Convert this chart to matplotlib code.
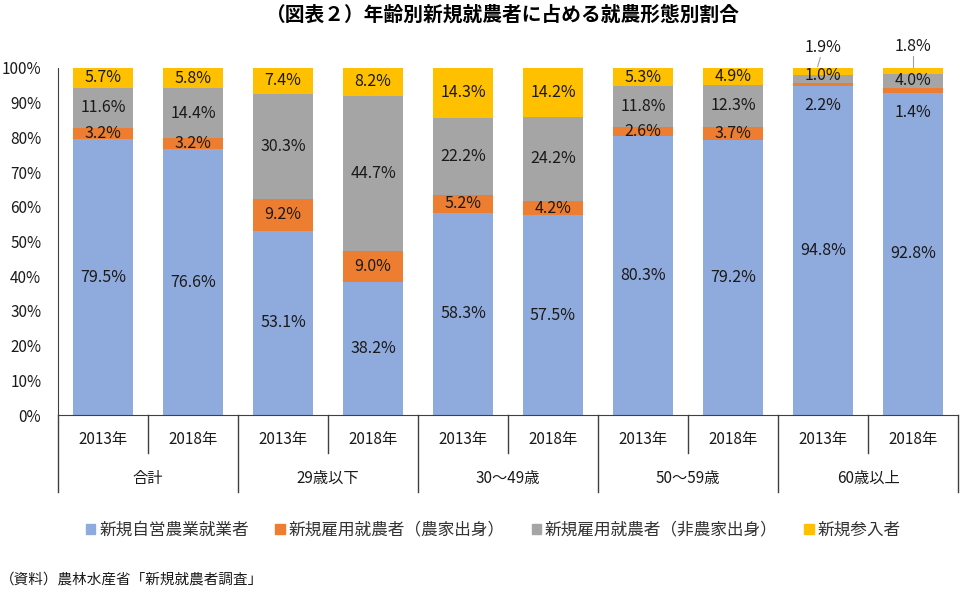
import numpy as np
import matplotlib.pyplot as plt
from matplotlib.patches import Patch

plt.rcParams['font.family'] = ['Noto Sans CJK JP', 'DejaVu Sans']

# データ
nenrei = ["合計", "29歳以下", "30～49歳", "50～59歳", "60歳以上"]
nen = ["2013年", "2018年"]

jiei = [79.5, 76.6, 53.1, 38.2, 58.3, 57.5, 80.3, 79.2, 94.8, 92.8]
koyo_noka = [3.2, 3.2, 9.2, 9.0, 5.2, 4.2, 2.6, 3.7, 1.0, 1.4]
koyo_hinoka = [11.6, 14.4, 30.3, 44.7, 22.2, 24.2, 11.8, 12.3, 2.2, 4.0]
sannyu = [5.7, 5.8, 7.4, 8.2, 14.3, 14.2, 5.3, 4.9, 1.9, 1.8]

series = [jiei, koyo_noka, koyo_hinoka, sannyu]
nomes = ["新規自営農業就業者", "新規雇用就農者（農家出身）",
         "新規雇用就農者（非農家出身）", "新規参入者"]
cores = ["#8FAADC", "#ED7D31", "#A5A5A5", "#FFC000"]

fig = plt.figure(figsize=(9.75, 6.03), dpi=100)
ax = fig.add_axes([58 / 975, 188 / 603, 900 / 975, 347 / 603])

x = np.arange(len(jiei))
base = np.zeros(len(jiei))
for k, (vals, cor) in enumerate(zip(series, cores)):
    vals = np.array(vals)
    ax.bar(x, vals, 0.667, bottom=base, color=cor, zorder=2)
    for i, v in enumerate(vals):
        if i >= 8 and k > 0:
            continue  # 60歳以上は手で配置
        ax.text(i, base[i] + v / 2, f"{v:.1f}%", ha="center", va="center",
                fontsize=11.5, color="#1a1a1a")
    base = base + vals

# 60歳以上の小さいラベル
c1 = dict(ha="center", va="center", fontsize=11.5, color="#1a1a1a")
ax.text(8, 97.7, f"{koyo_noka[8]:.1f}%", **c1)
ax.text(8, 89.3, f"{koyo_hinoka[8]:.1f}%", **c1)
ax.text(8, 105.8, f"{sannyu[8]:.1f}%", clip_on=False, **c1)
ax.text(9, 96.3, f"{koyo_hinoka[9]:.1f}%", **c1)
ax.text(9, 87.3, f"{koyo_noka[9]:.1f}%", **c1)
ax.text(9, 106.3, f"{sannyu[9]:.1f}%", clip_on=False, **c1)
ax.plot([7.97, 7.94], [103.0, 100.4], color="#a0a0a0", lw=0.8, clip_on=False)
ax.plot([9.0, 9.0], [103.4, 100.4], color="#a0a0a0", lw=0.8, clip_on=False)

ax.set_xlim(-0.5, 9.5)
ax.set_ylim(0, 100)
ax.set_yticks(np.arange(0, 101, 10))
ax.set_yticklabels([f"{t}%" for t in range(0, 101, 10)], fontsize=11, color="#1a1a1a")
ax.tick_params(axis="y", length=0, pad=12)
ax.set_xticks([])
ax.spines["top"].set_visible(False)
ax.spines["right"].set_visible(False)
ax.spines["left"].set_color("#404040")
ax.spines["bottom"].set_color("#404040")

# 軸の下の2段ラベル
tr = ax.get_xaxis_transform()
for i in range(len(jiei)):
    ax.text(i, -0.072, nen[i % 2], transform=tr, ha="center", va="center",
            fontsize=11, color="#1a1a1a")
for i in range(1, len(jiei), 2):
    ax.plot([i - 0.5, i - 0.5], [0, -0.1095], transform=tr,
            color="#404040", lw=1, clip_on=False)
for g in range(len(nenrei) + 1):
    ax.plot([2 * g - 0.5, 2 * g - 0.5], [0, -0.222], transform=tr,
            color="#404040", lw=1, clip_on=False)
for g, nome in enumerate(nenrei):
    ax.text(2 * g + 0.5, -0.1816, nome, transform=tr, ha="center", va="center",
            fontsize=11, color="#1a1a1a")

handles = [Patch(color=c) for c in cores]
fig.legend(handles, nomes, loc="center", bbox_to_anchor=(0.506, 1 - 530 / 603),
           ncol=4, frameon=False, fontsize=12, handlelength=0.55,
           handleheight=0.55, handletextpad=0.25, columnspacing=1.6,
           labelcolor="#333333")

fig.text(0.516, 1 - 15 / 603, "（図表２）年齢別新規就農者に占める就農形態別割合",
         ha="center", va="center", fontsize=14.2, fontweight="bold")
fig.text(0.0, 1 - 580 / 603, "（資料）農林水産省「新規就農者調査」",
         ha="left", va="center", fontsize=10.5, color="#1a1a1a")

fig.savefig("out.png")
